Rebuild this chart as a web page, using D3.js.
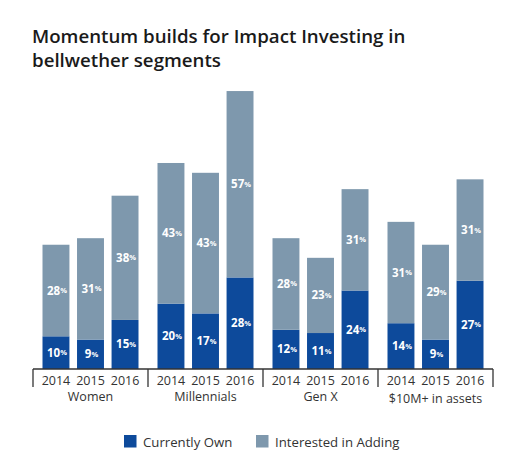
<!DOCTYPE html>
<html>
<head>
<meta charset="utf-8">
<script src="https://cdn.jsdelivr.net/npm/d3@7"></script>
<style>
  body { margin: 0; background: #fff; }
  svg { font-family: "Open Sans", "Noto Sans", sans-serif; }
</style>
</head>
<body>
<svg id="Vis" width="521" height="474"></svg>
<script>
const groups = ["Women", "Millennials", "Gen X", "$10M+ in assets"];
const years = ["2014", "2015", "2016"];
// values per group, in year order
const currentlyOwn = [
  [10, 9, 15],
  [20, 17, 28],
  [12, 11, 24],
  [14, 9, 27]
];
const interested = [
  [28, 31, 38],
  [43, 43, 57],
  [28, 23, 31],
  [31, 29, 31]
];
const seriesNames = ["Currently Own", "Interested in Adding"];
const colors = ["#0d4a9b", "#7e98ad"];

const svg = d3.select("svg#Vis");

// title, two lines
const titleLines = ["Momentum builds for Impact Investing in", "bellwether segments"];
svg.selectAll("text.title")
  .data(titleLines)
  .enter()
  .append("text")
    .attr("class", "title")
    .attr("x", 32)
    .attr("y", (d, i) => 43 + i * 24)
    .style("font-size", "18.7px")
    .style("font-weight", 600)
    .style("fill", "#1a1a1a")
    .text(d => d);

/* build rows for the stack */
let rows = [];
groups.forEach((g, i) => {
  years.forEach((y, j) => {
    rows.push({group: g, year: y, own: currentlyOwn[i][j], interested: interested[i][j]});
  });
});

const stack = d3.stack().keys(["own", "interested"]);
const series = stack(rows);

/* SCALES */
const baseY = 369;
const yScale = d3.scaleLinear().domain([0, 100]).range([baseY, baseY - 327]);

const groupScale = d3.scaleBand().domain(groups).range([33, 493]);
const yearScale = d3.scaleBand().domain(years).range([9.5, 105.5]).paddingInner(0.22);

const plot = svg.append("g").attr("id", "plot");

series.forEach((s, k) => {
  const layer = plot.append("g").attr("class", "layer");
  layer.selectAll("rect")
    .data(s)
    .enter()
    .append("rect")
      .attr("x", d => groupScale(d.data.group) + yearScale(d.data.year))
      .attr("y", d => yScale(d[1]))
      .attr("width", yearScale.bandwidth())
      .attr("height", d => yScale(d[0]) - yScale(d[1]))
      .style("fill", colors[k]);

  const labels = layer.selectAll("text")
    .data(s)
    .enter()
    .append("text")
      .attr("x", d => groupScale(d.data.group) + yearScale(d.data.year) + yearScale.bandwidth() / 2 + 1)
      .attr("y", d => (yScale(d[0]) + yScale(d[1])) / 2 + 4)
      .attr("text-anchor", "middle")
      .style("fill", "#fff")
      .style("font-weight", 700)
      .style("font-size", "11.5px");
  labels.append("tspan").text(d => d[1] - d[0]);
  labels.append("tspan").attr("dy", -1.5).style("font-size", "7.5px").text("%");
});

/* AXIS */
const axis = svg.append("g").attr("id", "x-axis");
axis.append("line")
  .attr("x1", groupScale.range()[0]).attr("x2", groupScale.range()[1])
  .attr("y1", baseY).attr("y2", baseY)
  .style("stroke", "#333").style("stroke-width", 1.3);

const edges = groups.map(g => groupScale(g)).concat([groupScale.range()[1]]);
axis.selectAll("line.sep")
  .data(edges)
  .enter()
  .append("line")
    .attr("class", "sep")
    .attr("x1", d => d).attr("x2", d => d)
    .attr("y1", baseY).attr("y2", baseY + 18)
    .style("stroke", "#333").style("stroke-width", 1.3);

axis.selectAll("text.year")
  .data(rows)
  .enter()
  .append("text")
    .attr("class", "year")
    .attr("x", d => groupScale(d.group) + yearScale(d.year) + yearScale.bandwidth() / 2)
    .attr("y", baseY + 15.5)
    .attr("text-anchor", "middle")
    .style("font-size", "12.5px")
    .style("fill", "#333")
    .text(d => d.year);

axis.selectAll("text.group")
  .data(groups)
  .enter()
  .append("text")
    .attr("class", "group")
    .attr("x", d => groupScale(d) + groupScale.bandwidth() / 2)
    .attr("y", (d, i) => baseY + 32 + (i === 3 ? 2 : 0))
    .attr("text-anchor", "middle")
    .style("font-size", "12.5px")
    .style("fill", "#333")
    .text(d => d);

/* LEGEND */
const legendX = [124, 256];
const legend = svg.append("g").attr("id", "legend");
seriesNames.forEach((name, i) => {
  legend.append("rect")
    .attr("x", legendX[i]).attr("y", 435)
    .attr("width", 12.5).attr("height", 12.5)
    .style("fill", colors[i]);
  legend.append("text")
    .attr("x", legendX[i] + 19).attr("y", 446.5)
    .style("font-size", "13.2px")
    .style("fill", "#333")
    .text(name);
});
</script>
</body>
</html>
